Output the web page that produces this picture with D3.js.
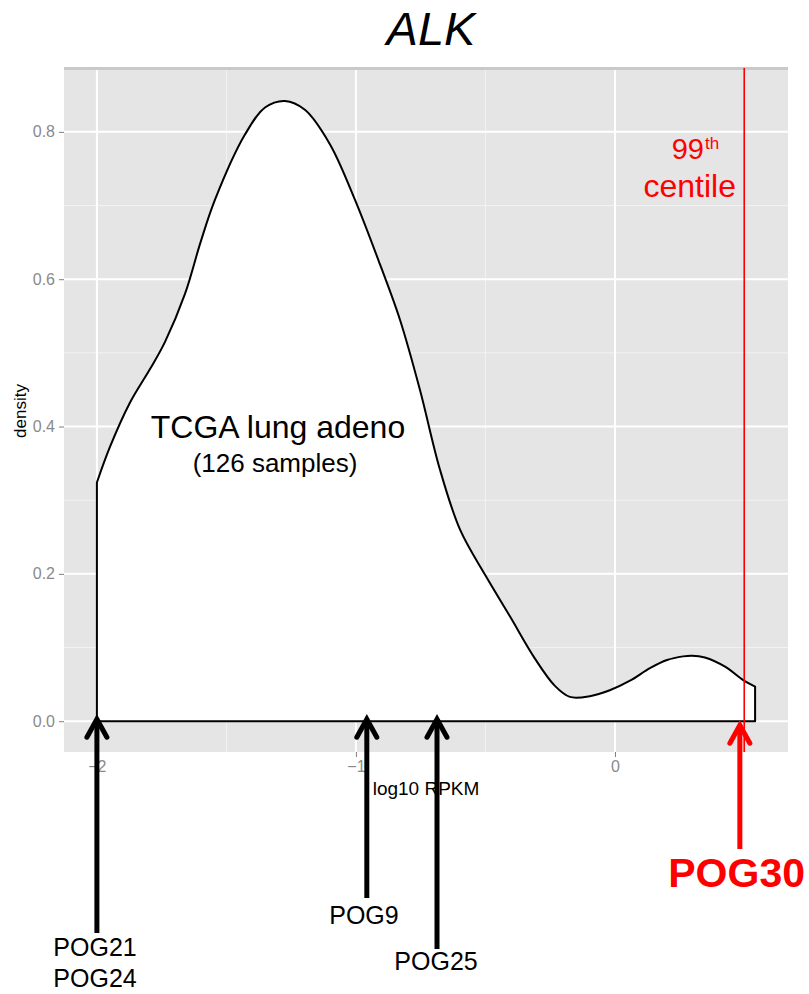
<!DOCTYPE html>
<html>
<head>
<meta charset="utf-8">
<script src="https://cdn.jsdelivr.net/npm/d3@7"></script>
<style>
  body { margin: 0; background: #fff; }
  text { font-family: "Liberation Sans", Arial, sans-serif; }
</style>
</head>
<body>
<div id="chart"></div>
<script>
// ALK density plot - TCGA lung adeno with POG sample markers

// density curve (log10 RPKM, density)
const curveX = [-2.0, -1.95, -1.873, -1.795, -1.737, -1.66, -1.6, -1.544, -1.429, -1.351, -1.274, -1.197, -1.1,
    -1.004, -0.907, -0.83, -0.753, -0.676, -0.598, -0.502, -0.405, -0.309, -0.232, -0.174, -0.097,
    -0.02, 0.058, 0.135, 0.201, 0.263, 0.297, 0.347, 0.425, 0.498, 0.541];
const curveY = [0.324, 0.372, 0.432, 0.478, 0.515, 0.58, 0.65, 0.708, 0.796, 0.833, 0.842, 0.83, 0.783,
    0.708, 0.62, 0.545, 0.45, 0.342, 0.26, 0.199, 0.142, 0.085, 0.048, 0.033, 0.034,
    0.042, 0.055, 0.072, 0.083, 0.088, 0.089, 0.0865, 0.074, 0.055, 0.047];

const xTicks = [-2, -1, 0];
const xMinor = [-1.5, -0.5, 0.5];
const yTicks = [0, 0.2, 0.4, 0.6, 0.8];
const yMinor = [0.1, 0.3, 0.5, 0.7];

const centile99 = 0.499;

const sampleLabels = [["POG21", "POG24"], ["POG9"], ["POG25"], ["POG30"]];
const sampleValues = [-2, -0.958, -0.687, 0.486];

// layout
const W = 809, H = 994;
const panel = { left: 64, right: 788, top: 68, bottom: 752 };

const svg = d3.select("#chart").append("svg")
    .attr("width", W).attr("height", H);

const x = d3.scaleLinear().domain([-2.127, 0.668]).range([panel.left, panel.right]);
const y = d3.scaleLinear().domain([-0.0418, 0.8867]).range([panel.bottom, panel.top]);

// panel background + grid
svg.append("rect")
    .attr("x", panel.left).attr("y", panel.top)
    .attr("width", panel.right - panel.left).attr("height", panel.bottom - panel.top)
    .attr("fill", "#e5e5e5");
svg.append("rect")
    .attr("x", panel.left).attr("y", panel.top - 1)
    .attr("width", panel.right - panel.left).attr("height", 3)
    .attr("fill", "#c9c9c9");

const grid = svg.append("g");
grid.selectAll(".xminor").data(xMinor).enter().append("line")
    .attr("x1", d => x(d)).attr("x2", d => x(d))
    .attr("y1", panel.top + 2).attr("y2", panel.bottom)
    .attr("stroke", "#f2f2f2").attr("stroke-width", 1);
grid.selectAll(".yminor").data(yMinor).enter().append("line")
    .attr("x1", panel.left).attr("x2", panel.right)
    .attr("y1", d => y(d)).attr("y2", d => y(d))
    .attr("stroke", "#f2f2f2").attr("stroke-width", 1);
grid.selectAll(".xmajor").data(xTicks).enter().append("line")
    .attr("x1", d => x(d)).attr("x2", d => x(d))
    .attr("y1", panel.top + 2).attr("y2", panel.bottom)
    .attr("stroke", "#fff").attr("stroke-width", 2);
grid.selectAll(".ymajor").data(yTicks).enter().append("line")
    .attr("x1", panel.left).attr("x2", panel.right)
    .attr("y1", d => y(d)).attr("y2", d => y(d))
    .attr("stroke", "#fff").attr("stroke-width", 2);

// axes
svg.append("g")
    .attr("transform", `translate(0,${panel.bottom})`)
    .call(d3.axisBottom(x).tickValues(xTicks).tickSize(5).tickPadding(4).tickFormat(d3.format("d")))
    .call(g => g.select(".domain").remove())
    .call(g => g.selectAll(".tick line").attr("stroke", "#7f7f7f"))
    .call(g => g.selectAll(".tick text").attr("fill", "#8a8a8a").style("font-size", "16px")
        .style("font-family", "Liberation Sans, Arial, sans-serif"));

svg.append("g")
    .attr("transform", `translate(${panel.left},0)`)
    .call(d3.axisLeft(y).tickValues(yTicks).tickSize(5).tickPadding(4).tickFormat(d3.format(".1f")))
    .call(g => g.select(".domain").remove())
    .call(g => g.selectAll(".tick line").attr("stroke", "#7f7f7f"))
    .call(g => g.selectAll(".tick text").attr("fill", "#8a8a8a").style("font-size", "16px")
        .style("font-family", "Liberation Sans, Arial, sans-serif"));

svg.append("text")
    .attr("x", 426).attr("y", 795)
    .attr("text-anchor", "middle")
    .style("font-size", "19px")
    .text("log10 RPKM");

svg.append("text")
    .attr("transform", "translate(26,411) rotate(-90)")
    .attr("text-anchor", "middle")
    .style("font-size", "17px")
    .text("density");

// density area
const pts = curveX.map((v, i) => [v, curveY[i]]);
const line = d3.line().x(d => x(d[0])).y(d => y(d[1])).curve(d3.curveCatmullRom.alpha(0.5));
const first = pts[0], last = pts[pts.length - 1];
const pathD = `M${x(first[0])},${y(0)}` + line(pts).replace(/^M/, "L") +
    `L${x(last[0])},${y(0)}Z`;
svg.append("path")
    .attr("d", pathD)
    .attr("fill", "#fff")
    .attr("stroke", "#000")
    .attr("stroke-width", 2)
    .attr("stroke-linejoin", "round");

// 99th centile line
svg.append("line")
    .attr("x1", x(centile99)).attr("x2", x(centile99))
    .attr("y1", panel.top).attr("y2", panel.bottom)
    .attr("stroke", "#ff0000").attr("stroke-width", 1.6);

const cent = svg.append("g").attr("fill", "#ff0000");
cent.append("text")
    .attr("x", 704).attr("y", 159)
    .attr("text-anchor", "end")
    .style("font-size", "29px")
    .text("99");
cent.append("text")
    .attr("x", 705).attr("y", 149)
    .style("font-size", "17px")
    .text("th");
cent.append("text")
    .attr("x", 736).attr("y", 197)
    .attr("text-anchor", "end")
    .style("font-size", "32px")
    .text("centile");

// annotation
svg.append("text")
    .attr("x", 278).attr("y", 438)
    .attr("text-anchor", "middle")
    .style("font-size", "32px")
    .text("TCGA lung adeno");
svg.append("text")
    .attr("x", 275).attr("y", 472)
    .attr("text-anchor", "middle")
    .style("font-size", "26px")
    .text("(126 samples)");

// title
svg.append("text")
    .attr("x", 431).attr("y", 45)
    .attr("text-anchor", "middle")
    .style("font-size", "47px")
    .style("font-style", "italic")
    .text("ALK");

// sample arrows
const stemBottom = [933, 898, 949, 849];
const labelX = [95, 364, 436, 805];
const labelY = [956, 924, 970, 887];
const arrowColor = ["#000", "#000", "#000", "#ff0000"];

sampleValues.forEach((v, i) => {
    const g = svg.append("g");
    const cx = i === 3 ? x(v) - 1 : x(v);
    const tip = y(0) - 3 + (i === 3 ? 6 : 0);
    g.append("line")
        .attr("x1", cx).attr("x2", cx)
        .attr("y1", stemBottom[i]).attr("y2", tip + 2)
        .attr("stroke", arrowColor[i]).attr("stroke-width", 5);
    g.append("path")
        .attr("d", `M${cx - 10},${tip + 19}L${cx},${tip + 1}L${cx + 10},${tip + 19}`)
        .attr("fill", "none")
        .attr("stroke", arrowColor[i]).attr("stroke-width", 5)
        .attr("stroke-linecap", "round").attr("stroke-linejoin", "miter");
    const t = g.append("text")
        .attr("x", labelX[i]).attr("y", labelY[i])
        .attr("text-anchor", i === 3 ? "end" : "middle")
        .attr("fill", arrowColor[i])
        .style("font-size", i === 3 ? "41px" : "25px")
        .style("font-weight", i === 3 ? "bold" : "normal");
    sampleLabels[i].forEach((s, j) => {
        t.append("tspan").attr("x", labelX[i]).attr("dy", j === 0 ? 0 : 31).text(s);
    });
});
</script>
</body>
</html>
